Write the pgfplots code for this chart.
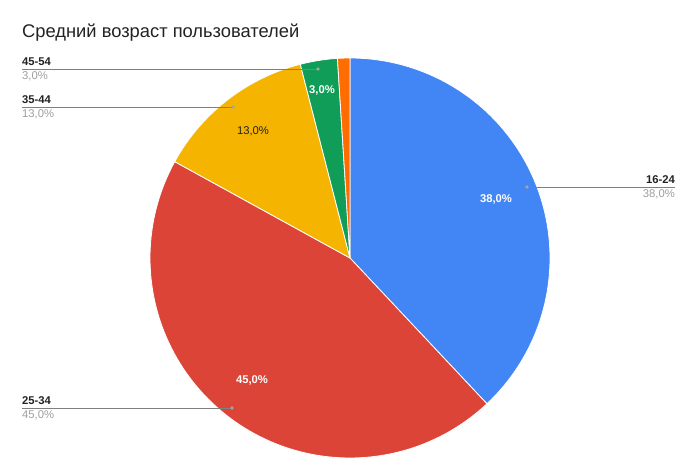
\documentclass[border=0pt]{standalone}
\usepackage{fontspec}
\setmainfont{Liberation Sans}
\usepackage{pgfplots}
\pgfplotsset{compat=1.18}

\definecolor{cBlue}{HTML}{4285F4}
\definecolor{cRed}{HTML}{DB4437}
\definecolor{cYellow}{HTML}{F4B400}
\definecolor{cGreen}{HTML}{0F9D58}
\definecolor{cOrange}{HTML}{FF6D01}
\definecolor{txtDark}{HTML}{222222}
\definecolor{txtGray}{HTML}{9E9E9E}
\definecolor{lineGray}{HTML}{7F7F7F}

% shares in percent, clockwise from 12 o'clock
\pgfmathsetmacro{\aA}{90}
\pgfmathsetmacro{\aB}{\aA-3.6*38} % 16-24
\pgfmathsetmacro{\aC}{\aB-3.6*45} % 25-34
\pgfmathsetmacro{\aD}{\aC-3.6*13} % 35-44
\pgfmathsetmacro{\aE}{\aD-3.6*3}  % 45-54
\pgfmathsetmacro{\aF}{\aE-3.6*1}  % rest

\newcommand{\lbl}{\fontsize{11.3}{13}\selectfont}
\newcommand{\inl}{\fontsize{11.3}{13}\selectfont}

\begin{document}
\begin{tikzpicture}
\begin{axis}[
    x=1bp, y=1bp,
    xmin=0, xmax=697, ymin=0, ymax=472,
    hide axis, clip=false,
    scale only axis,
    every axis plot/.append style={line width=0.8pt, line join=round},
]
\path (rel axis cs:0,0) rectangle (rel axis cs:1,1);

\addplot[fill=cBlue,   draw=white, domain=\aB:\aA, samples=90, variable=\t]
    ({350+200*cos(\t)}, {214+200*sin(\t)}) -- (axis cs:350,214) -- cycle;
\addplot[fill=cRed,    draw=white, domain=\aC:\aB, samples=100, variable=\t]
    ({350+200*cos(\t)}, {214+200*sin(\t)}) -- (axis cs:350,214) -- cycle;
\addplot[fill=cYellow, draw=white, domain=\aD:\aC, samples=40, variable=\t]
    ({350+200*cos(\t)}, {214+200*sin(\t)}) -- (axis cs:350,214) -- cycle;
\addplot[fill=cGreen,  draw=white, domain=\aE:\aD, samples=12, variable=\t]
    ({350+200*cos(\t)}, {214+200*sin(\t)}) -- (axis cs:350,214) -- cycle;
\addplot[fill=cOrange, draw=white, domain=\aF:\aE, samples=6, variable=\t]
    ({350+200*cos(\t)}, {214+200*sin(\t)}) -- (axis cs:350,214) -- cycle;

% leader lines
\addplot[lineGray, line width=0.7pt] coordinates {(22,403) (318,403)};
\addplot[lineGray, line width=0.7pt] coordinates {(22,365) (233,365)};
\addplot[lineGray, line width=0.7pt] coordinates {(527,285) (675,285)};
\addplot[lineGray, line width=0.7pt] coordinates {(22,64) (232,64)};
\addplot[only marks, mark=*, mark size=1.3pt, color=lineGray!70]
    coordinates {(318,403) (233,365) (527,285) (232,64)};

% title
\node[anchor=base west, inner sep=0, text=txtDark]
    at (axis cs:22,434) {\fontsize{18.4}{22}\selectfont Средний возраст пользователей};

% outside labels
\node[anchor=base west, inner sep=0, text=txtDark] at (axis cs:22,406) {\lbl\bfseries 45-54};
\node[anchor=base west, inner sep=0, text=txtGray] at (axis cs:22,392) {\lbl 3,0\%};
\node[anchor=base west, inner sep=0, text=txtDark] at (axis cs:22,368) {\lbl\bfseries 35-44};
\node[anchor=base west, inner sep=0, text=txtGray] at (axis cs:22,354) {\lbl 13,0\%};
\node[anchor=base east, inner sep=0, text=txtDark] at (axis cs:675,288) {\lbl\bfseries 16-24};
\node[anchor=base east, inner sep=0, text=txtGray] at (axis cs:675,274) {\lbl 38,0\%};
\node[anchor=base west, inner sep=0, text=txtDark] at (axis cs:22,67) {\lbl\bfseries 25-34};
\node[anchor=base west, inner sep=0, text=txtGray] at (axis cs:22,53) {\lbl 45,0\%};

% inside labels
\node[text=white, inner sep=0] at (axis cs:496,273) {\inl\bfseries 38,0\%};
\node[text=white, inner sep=0] at (axis cs:252,92) {\inl\bfseries 45,0\%};
\node[text=txtDark, inner sep=0] at (axis cs:253,341) {\inl 13,0\%};
\node[text=white, inner sep=0] at (axis cs:322,382) {\inl\bfseries 3,0\%};
\end{axis}
\end{tikzpicture}
\end{document}
